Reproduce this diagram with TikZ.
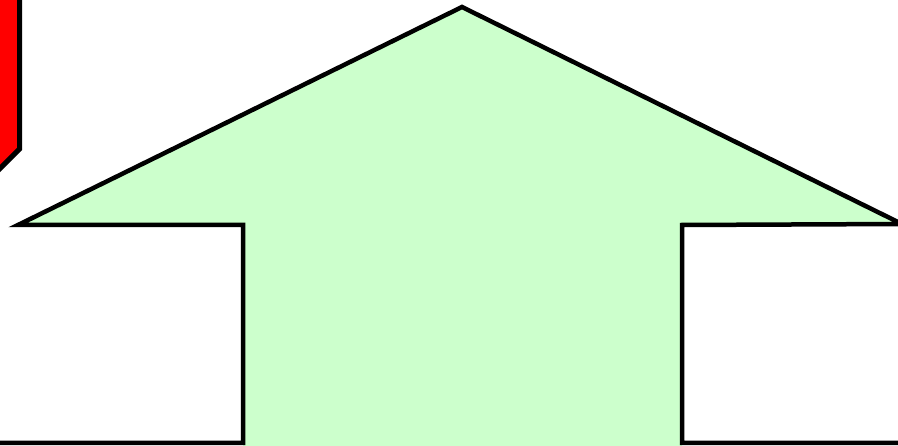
\documentclass[tikz,border=0pt]{standalone}
\begin{document}
\begin{tikzpicture}[x=1pt,y=-1pt,
  outline/.style={draw=black,line width=4.5pt,line join=miter},
  arrowfill/.style={fill={rgb,255:red,204;green,255;blue,204}}]
\useasboundingbox (0,0) rectangle (898,446);
\clip (0,0) rectangle (898,446);
% red shape at top left
\fill[red] (-5,-5) -- (19.5,-5) -- (19.5,149) -- (-5,173.5) -- cycle;
\draw[black,line width=5pt] (19.5,-5) -- (19.5,149) -- (-5,173.5);
% green arrow fill
\fill[arrowfill] (243,450) -- (243,225) -- (22,225) -- (462,7) -- (898,223) -- (682,225) -- (682,450) -- cycle;
% outline
\draw[outline] (-5,443) -- (243,443) -- (243,225) -- (18,225) -- (462,7) -- (902,224) -- (682,225) -- (682,443) -- (903,443);
\end{tikzpicture}
\end{document}
